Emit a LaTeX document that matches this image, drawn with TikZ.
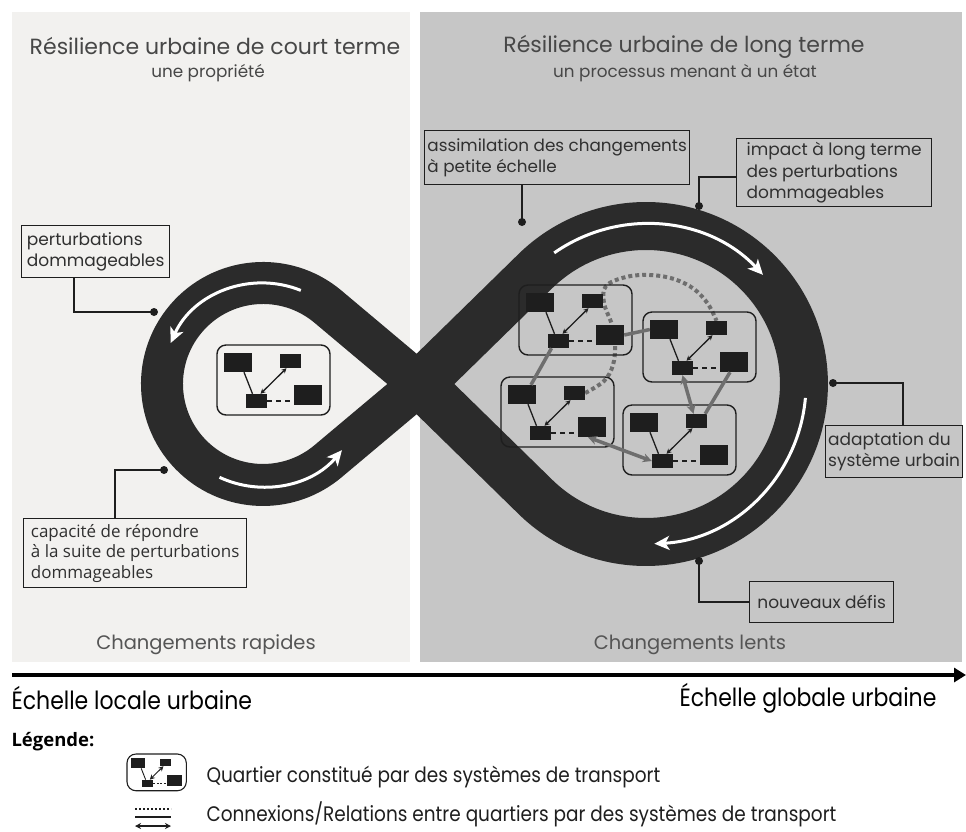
\documentclass[tikz,border=0pt]{standalone}
\usepackage{fontspec}
\setmainfont{Poppins}
\newfontfamily\narrowfont[FakeStretch=0.88]{Poppins}
\newfontfamily\humfont{Open Sans}
\usetikzlibrary{arrows.meta,calc}
\pgfdeclarelayer{back}
\pgfsetlayers{back,main}
\definecolor{panelL}{HTML}{F2F1EF}
\definecolor{panelR}{HTML}{C6C6C6}
\definecolor{ringc}{HTML}{2B2B2B}
\definecolor{ink}{HTML}{1E1E1E}
\definecolor{linkc}{HTML}{6E6E6E}
\definecolor{titlec}{HTML}{474747}
\definecolor{labelc}{HTML}{303030}
\definecolor{softc}{HTML}{555555}
\tikzset{
  ringpath/.style={draw=ringc, line join=round, line cap=round},
  warrow/.style={draw=white, line width=3pt, -{Stealth[length=15pt,width=14pt,inset=4pt]}},
  qbox/.style={draw=ink, line width=1.4pt, rounded corners=9pt, inner sep=0pt},
  blkbig/.style={fill=ink, inner sep=0pt, minimum width=28pt, minimum height=19pt},
  blksmall/.style={fill=ink, inner sep=0pt, minimum width=21pt, minimum height=14pt},
  inlink/.style={draw=ink, line width=1.3pt},
  inarrow/.style={draw=ink, line width=1.3pt, {Stealth[length=5pt,width=5pt]}-{Stealth[length=5pt,width=5pt]}},
  indash/.style={draw=ink, line width=1.6pt, dash pattern=on 5pt off 4pt},
  glink/.style={draw=linkc, line width=3.5pt},
  garrow/.style={draw=linkc, line width=3.5pt, {Stealth[length=9pt,width=9pt]}-{Stealth[length=9pt,width=9pt]}},
  gdots/.style={draw=linkc, line width=4pt, dash pattern=on 4pt off 3pt},
  callout/.style={draw=ink, line width=1.3pt, inner sep=2.5pt, align=left, anchor=north west, text=labelc, font=\fontsize{17}{21.5}\selectfont},
  conn/.style={draw=ink, line width=1.4pt},
  dot/.style={fill=ink},
  title/.style={text=titlec, font=\fontsize{22}{26}\selectfont},
  subtitle/.style={text=titlec, font=\fontsize{16.8}{20}\selectfont},
  speed/.style={text=softc, font=\fontsize{19.5}{22}\selectfont},
  scalelab/.style={text=black, font=\narrowfont\fontsize{25}{28}\selectfont},
  legtext/.style={text=black!88, font=\narrowfont\fontsize{21}{24}\selectfont, anchor=west},
}
\newcommand{\quartier}[4][]{%
\begin{scope}[shift={(#3,#4)},#1]
 \node[qbox, minimum width=113pt, minimum height=70pt] (#2) at (56.5,35) {};
 \node[blkbig] (#2A) at (21,17.5) {};
 \node[blksmall] (#2B) at (73.5,16) {};
 \node[blksmall] (#2C) at (39.5,56) {};
 \node[blkbig, minimum height=20pt] (#2D) at (91,50) {};
 \draw[inlink] ([xshift=6pt]#2A.south) -- ([xshift=-4pt]#2C.north);
 \draw[inarrow] ([xshift=4pt]#2C.north) -- ([xshift=-4pt]#2B.south);
 \draw[indash] (#2C.east) -- (#2C.east -| #2D.west);
\end{scope}}
\begin{document}
\begin{tikzpicture}[x=1pt,y=-1pt]
\useasboundingbox (0,0) rectangle (966,831);
\begin{pgfonlayer}{back}
\fill[panelL] (12,12) rectangle (410,662);
\fill[panelR] (420,12) rectangle (962,662);
\coordinate (X) at (420,384);
\draw[ringpath, line width=42pt] (X) -- (327.9,306.6) arc[start angle=-50, end angle=-310, radius=101] -- cycle;
\draw[ringpath, line width=48pt] (X) -- (535.4,271.1) arc[start angle=-134.4, end angle=134.4, radius=158] -- cycle;
\draw[warrow] (300.8,290.4) arc[start angle=-68, end angle=-156, radius=101];
\draw[warrow] (219.5,477.3) arc[start angle=115, end angle=40, radius=103];
\draw[warrow] (554.2,252.9) arc[start angle=-125, end angle=-43, radius=160];
\draw[warrow] (805.4,397.9) arc[start angle=5, end angle=87, radius=160];
\end{pgfonlayer}

% titles
\node[title] (t1) at (215,46) {Résilience urbaine de court terme};
\node[subtitle] (s1) at (208,73) {une propriété};
\node[title] (t2) at (684,47) {Résilience urbaine de long terme};
\node[subtitle] (s2) at (685,73) {un processus menant à un état};
\node[speed] (c1) at (206,645) {Changements rapides};
\node[speed] (c2) at (690,645) {Changements lents};

% quartiers
\quartier{QL}{217}{345}
\quartier{QA}{519}{285}
\quartier{QB}{643}{312}
\quartier{QC}{501}{377}
\quartier{QD}{623}{405}

% links between quartiers
\begin{pgfonlayer}{back}
\draw[gdots] plot[smooth, tension=0.6] coordinates {(QCB.east) (604,381) (613,365) (615,345) (612,325) (604,303) (606,286) (626,277) (650,275) (674,279) (694,289) (708,304) (QBB.north)};
\end{pgfonlayer}
\draw[glink] (QAD.east) -- (QBA.west);
\draw[glink] ([xshift=-7pt]QAC.south) -- ([xshift=9pt]QCA.north);
\draw[garrow] (QBC.south) -- ([xshift=-3pt]QDB.north);
\draw[glink] ([xshift=-4pt]QBD.south) -- ([xshift=-2pt]QDB.north east);
\draw[garrow] ([xshift=-4pt]QCD.south) -- (QDC.west);

% callouts
\node[callout, minimum width=148pt, minimum height=52pt] (perturb) at (21,225) {perturbations\\dommageables};
\coordinate (d1) at (154,312);
\draw[conn] ([xshift=53pt]perturb.south west) |- (d1);
\fill[dot] (d1) circle (4);

\node[callout, minimum width=223pt, minimum height=69pt, font=\humfont\fontsize{17}{20.5}\selectfont] (capa) at (23,518) {capacité de répondre\\à la suite de perturbations\\dommageables};
\coordinate (d2) at (164,470);
\draw[conn] ([xshift=92pt]capa.north west) |- (d2);
\fill[dot] (d2) circle (4);

\node[callout, minimum width=265pt, minimum height=54pt, font=\fontsize{16.8}{21.5}\selectfont] (assim) at (424,130) {assimilation des changements\\à petite échelle};
\coordinate (d3) at (522,222);
\draw[conn] (d3 |- assim.south) -- (d3);
\fill[dot] (d3) circle (4);

\node[callout, minimum width=195pt, minimum height=68pt] (impact) at (736,138) {impact à long terme\\des perturbations\\dommageables};
\coordinate (d4) at (699,206);
\draw[conn] ([yshift=-39pt]impact.north west) -| (d4);
\fill[dot] (d4) circle (4);

\node[callout, minimum width=134pt, minimum height=52pt] (adapt) at (825,425) {adaptation du\\système urbain};
\coordinate (d5) at (833,383);
\draw[conn] (d5) -| ([xshift=78pt]adapt.north west);
\fill[dot] (d5) circle (4);

\node[callout, minimum width=144pt, minimum height=41pt] (nouv) at (749,581) {nouveaux défis};
\coordinate (d6) at (699,561);
\draw[conn] (d6) |- (nouv.west);
\fill[dot] (d6) circle (4);

% scale axis
\coordinate (axL) at (12,675);
\coordinate (axR) at (966,675);
\draw[line width=4pt, -{Triangle[length=12pt,width=14pt]}] (axL) -- (axR);
\node[scalelab, anchor=west] (sl) at (8,698) {Échelle locale urbaine};
\node[scalelab, anchor=east] (sg) at (940,698) {Échelle globale urbaine};

% legend
\node[anchor=west, font=\humfont\bfseries\fontsize{18.5}{21}\selectfont] (leg) at (8,742) {Légende:};
\quartier[scale=0.525, transform shape, qbox/.append style={line width=1.1pt}, inlink/.append style={line width=0.9pt}, inarrow/.append style={line width=0.9pt}, indash/.append style={line width=1pt, dash pattern=on 2pt off 1.5pt}]{LQ}{127}{754}
\node[legtext] (lt1) at (203,777) {Quartier constitué par des systèmes de transport};
\coordinate (l1a) at (135,809); \coordinate (l1b) at (171,809);
\coordinate (l2a) at (135,817); \coordinate (l2b) at (171,817);
\coordinate (l3a) at (135,826); \coordinate (l3b) at (171,826);
\draw[ink, line width=2pt, dash pattern=on 2pt off 2pt] (l1a) -- (l1b);
\draw[ink, line width=2pt] (l2a) -- (l2b);
\draw[ink, line width=1.6pt, {Stealth[length=6pt,width=6pt]}-{Stealth[length=6pt,width=6pt]}] (l3a) -- (l3b);
\node[legtext] (lt2) at (203,814) {Connexions/Relations entre quartiers par des systèmes de transport};
\end{tikzpicture}
\end{document}
